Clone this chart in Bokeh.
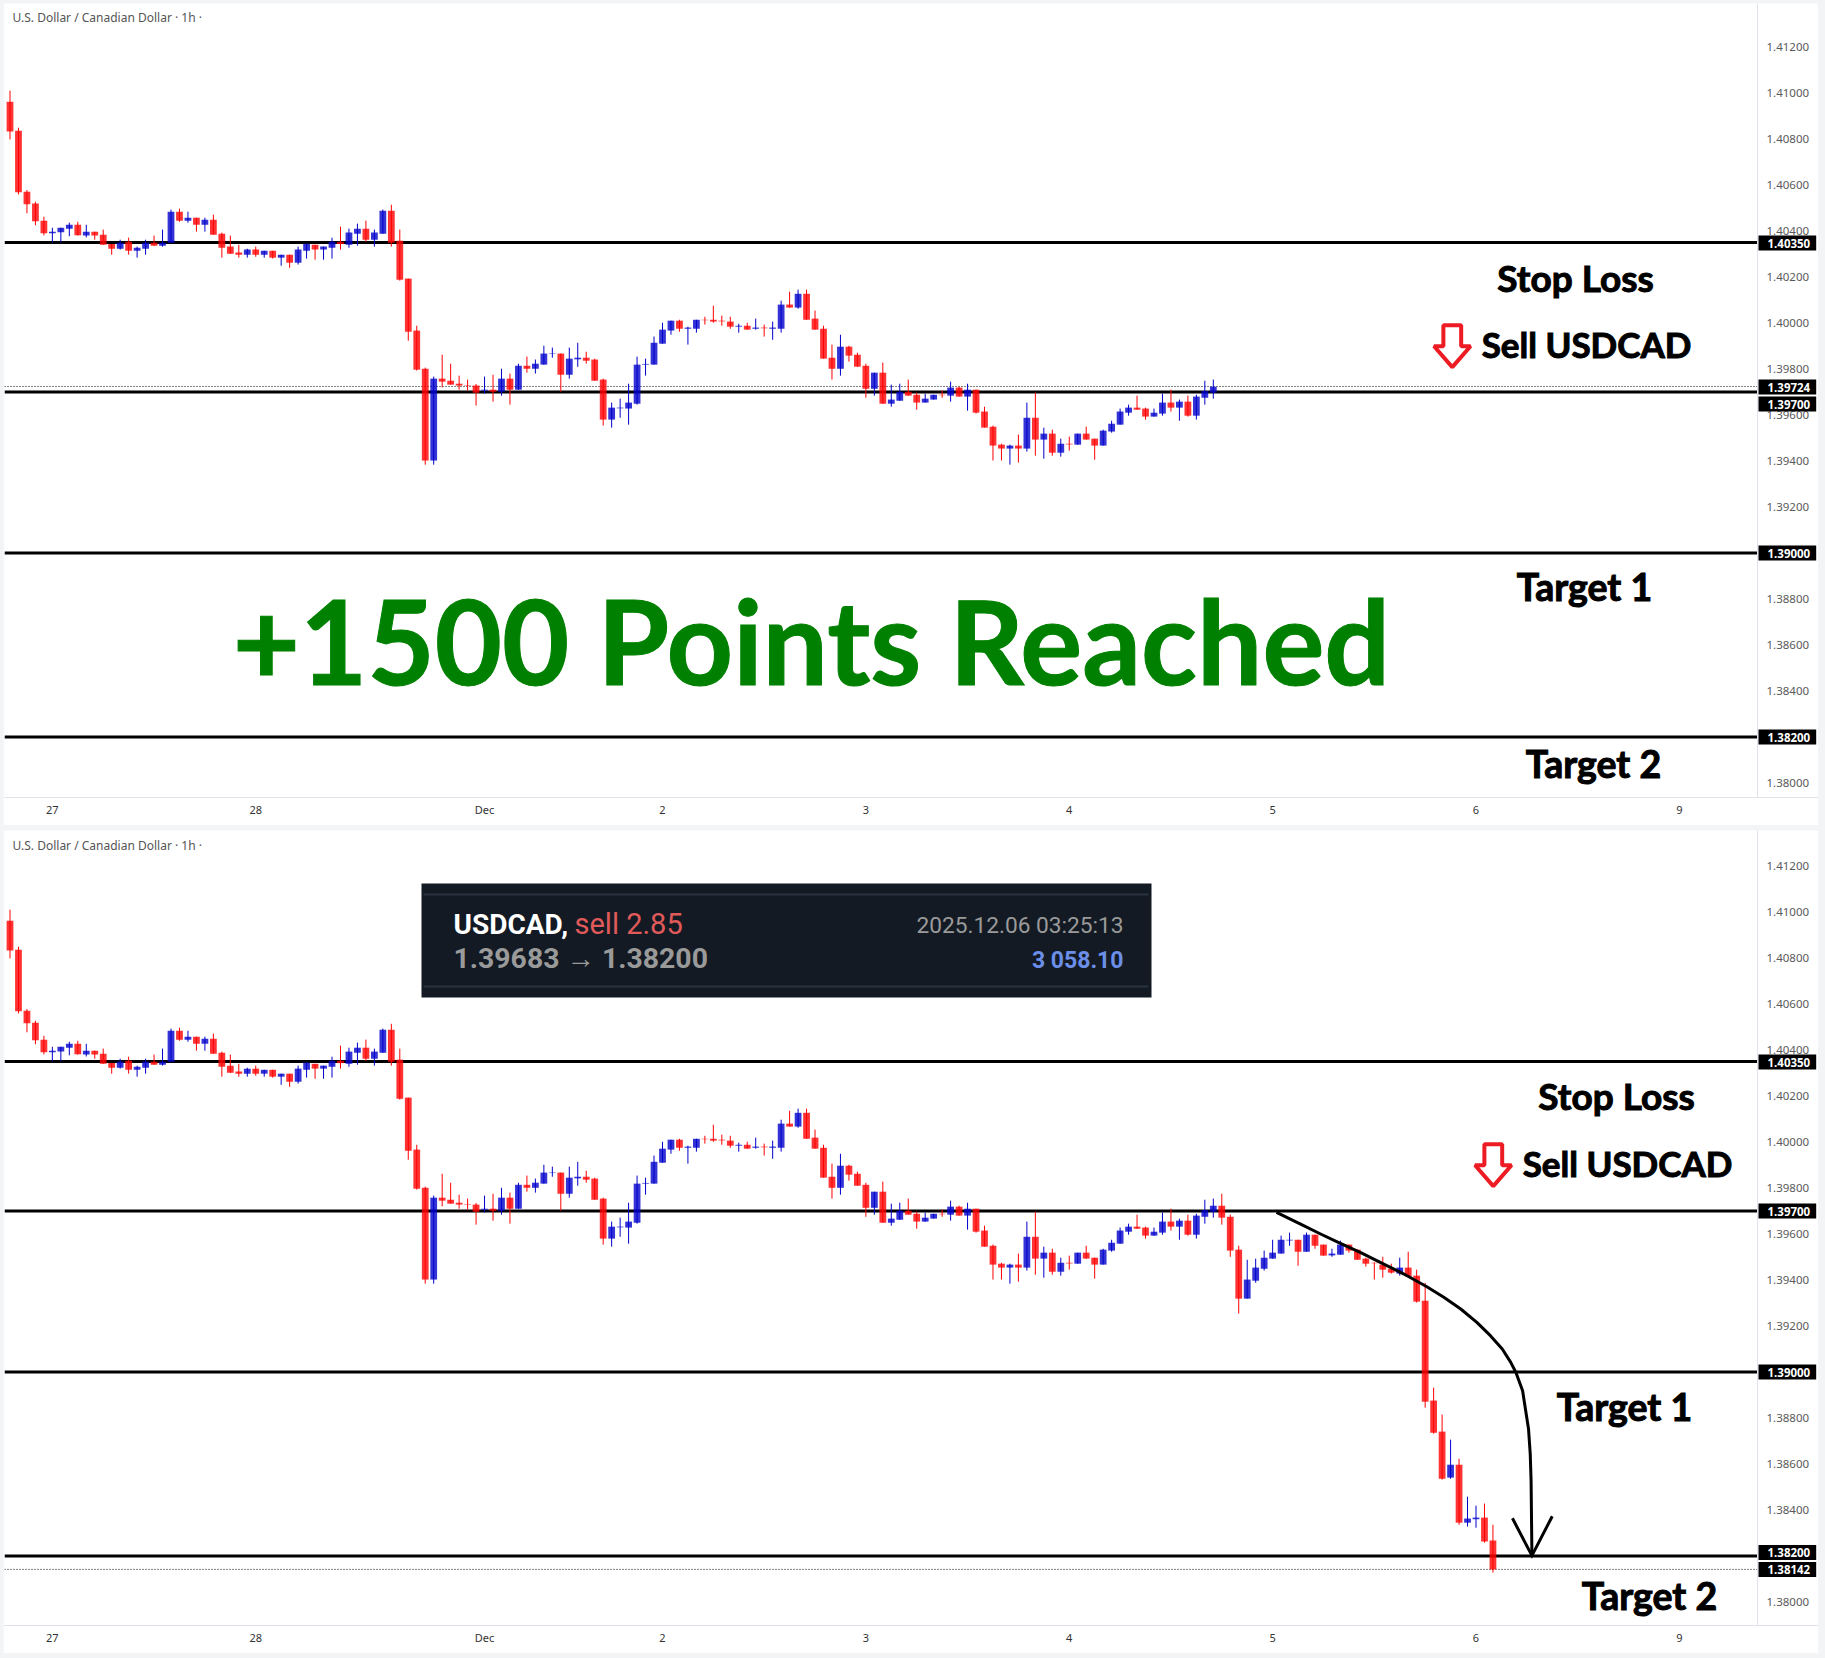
from bokeh.embed import file_html
from bokeh.resources import INLINE
from bokeh.layouts import column
from bokeh.models import (ColumnDataSource, Range1d, LinearAxis, FixedTicker, NumeralTickFormatter,
                          Label, BoxAnnotation)
from bokeh.plotting import figure

# Candles in points (1 point = 0.00001)
bar_high = [141010,140849,140578,140527,140462,140414,140414,140436,140440,140427,140397,140406,140343,140362,140371,140332,140362,140380,140406,140493,140497,140484,140458,140458,140471,140393,140380,140340,140323,140332,140314,140314,140297,140297,140332,140345,140340,140332,140371,140419,140410,140432,140445,140406,140493,140514,140406,140193,139988,139806,139767,139862,139823,139771,139754,139735,139767,139775,139801,139780,139823,139854,139841,139901,139893,139867,139893,139914,139875,139845,139758,139654,139671,139736,139854,139845,139941,140001,140010,140014,139984,140014,140027,140075,140032,140027,139997,140001,140019,139993,140006,140097,140136,140145,140145,140054,139988,139906,139949,139901,139871,139823,139784,139828,139732,139736,139754,139697,139693,139688,139706,139745,139723,139736,139710,139636,139554,139475,139471,139515,139654,139697,139545,139536,139497,139506,139519,139549,139497,139536,139575,139628,139645,139684,139632,139628,139693,139710,139667,139684,139688,139749,139754,139775,139684,139549,139488,139493,139528,139575,139593,139606,139575,139606,139597,139554,139536,139571,139554,139532,139497,139477,139501,139471,139497,139523,139445,139388,138932,138815,138706,138623,138458,138419,138428,138336]
bar_low = [140798,140559,140477,140425,140381,140351,140351,140377,140380,140372,140362,140340,140297,140319,140297,140284,140297,140336,140332,140349,140440,140436,140397,140397,140384,140284,140301,140284,140284,140288,140284,140280,140249,140240,140254,140280,140275,140275,140280,140319,140327,140336,140353,140332,140388,140332,140184,139923,139793,139384,139384,139720,139732,139710,139706,139641,139693,139658,139684,139645,139710,139784,139780,139819,139849,139701,139758,139810,139823,139749,139554,139545,139588,139558,139645,139771,139819,139910,139949,139962,139906,139958,139993,140001,139988,139975,139958,139971,139971,139941,139927,139958,140067,140062,140014,139971,139845,139754,139771,139832,139810,139675,139684,139649,139636,139662,139684,139623,139654,139667,139675,139658,139680,139619,139606,139545,139402,139402,139384,139393,139441,139423,139410,139423,139419,139445,139471,139493,139406,139467,139523,139558,139597,139623,139580,139593,139597,139615,139575,139593,139580,139645,139671,139641,139501,139254,139319,139388,139441,139493,139515,139549,139462,139523,139536,139506,139501,139510,139519,139488,139458,139402,139410,139428,139419,139415,139302,138845,138732,138532,138536,138336,138328,138323,138258,138128]
bar_open = [140962,140836,140571,140519,140445,140390,140394,140410,140427,140380,140397,140384,140343,140323,140353,140314,140323,140349,140336,140349,140484,140445,140458,140427,140449,140388,140332,140306,140297,140319,140297,140314,140284,140297,140262,140314,140340,140319,140327,140353,140340,140388,140410,140362,140388,140488,140358,140193,139967,139801,139402,139758,139749,139736,139730,139728,139706,139710,139701,139758,139710,139814,139801,139819,139865,139867,139775,139842,139849,139841,139754,139580,139629,139628,139649,139819,139819,139910,139967,140010,139975,139975,140014,140014,140010,140006,139984,139988,139975,139980,139975,139975,140080,140067,140127,140019,139975,139849,139801,139897,139862,139814,139714,139784,139649,139662,139701,139688,139654,139667,139688,139684,139719,139680,139710,139615,139549,139471,139454,139467,139454,139588,139493,139519,139436,139475,139471,139519,139497,139467,139528,139558,139610,139632,139628,139593,139606,139654,139632,139658,139597,139675,139697,139723,139675,139532,139319,139397,139449,139493,139515,139572,139575,139523,139597,139554,139507,139510,139554,139532,139493,139475,139467,139449,139428,139454,139419,139310,138876,138741,138541,138597,138345,138360,138367,138267]
bar_close = [140833,140568,140516,140442,140390,140397,140414,140427,140381,140397,140380,140340,140323,140349,140314,140327,140349,140336,140349,140484,140445,140458,140427,140449,140384,140327,140301,140297,140319,140297,140314,140284,140297,140262,140319,140345,140319,140332,140353,140343,140393,140410,140362,140393,140488,140349,140188,139962,139797,139402,139758,139745,139732,139728,139728,139697,139710,139701,139758,139710,139814,139801,139823,139867,139867,139775,139845,139849,139836,139749,139580,139632,139632,139654,139819,139822,139914,139971,140010,139975,139980,140014,140012,140006,140007,139984,139988,139971,139980,139977,139980,140080,140067,140127,140014,139971,139845,139801,139897,139858,139810,139714,139784,139649,139667,139701,139684,139654,139671,139688,139686,139719,139680,139710,139610,139545,139467,139454,139467,139454,139588,139493,139519,139436,139475,139472,139519,139493,139467,139532,139562,139615,139632,139623,139593,139610,139654,139632,139658,139597,139680,139704,139723,139671,139528,139319,139402,139454,139497,139519,139575,139575,139523,139597,139549,139506,139515,139554,139528,139488,139471,139473,139445,139432,139454,139415,139306,138871,138736,138536,138597,138345,138363,138367,138263,138142]
first_panel_bars = 143

x_tick_bars = [5, 29, 56, 77, 101, 125, 149, 173, 197]
x_tick_labels = ["27", "28", "Dec", "2", "3", "4", "5", "6", "9"]
y_ticks = [1.380, 1.382, 1.384, 1.386, 1.388, 1.390, 1.392, 1.394, 1.396, 1.398, 1.400, 1.402, 1.404, 1.406, 1.408, 1.410, 1.412]

levels_top = [1.40350, 1.39700, 1.39000, 1.38200]
levels_bottom = [1.40350, 1.39700, 1.39000, 1.38200]
last_top = 1.39724
last_bottom = 1.38142

curve_bar = [149.46, 152.3, 154.66, 157.0, 159.4, 161.7, 164.5, 167.2, 169.2, 171.2, 173.1, 174.7, 176.1, 177.1, 177.7, 178.5, 178.8, 179.2, 179.4, 179.5, 179.6]
curve_price = [1.39694, 1.39643, 1.39600, 1.39559, 1.39519, 1.39477, 1.39426, 1.39371, 1.39325, 1.39274, 1.39216, 1.39158, 1.39100, 1.39042, 1.38999, 1.38919, 1.38847, 1.38752, 1.38644, 1.38528, 1.38202]
head_bar = [177.3, 179.6, 182.0]
head_price = [1.38364, 1.38202, 1.38373]

arrow_bar = [169.15, 171.25, 171.25, 172.35, 170.2, 168.05, 169.15]
arrow_price = [1.39990, 1.39990, 1.39899, 1.39899, 1.39808, 1.39899, 1.39899]

BLACK = "#000000"
FONT = "Noto Sans"
BIG = "Lato"
PX_BAR = 8.474
X0 = 9.5
FRAME_L = 4
FRAME_R = 1818
AXIS_X = (1757 - X0) / PX_BAR
X_START = (FRAME_L - X0) / PX_BAR


def label(fig_bottom, x, y, text, **kw):
    return Label(x=x - FRAME_L, y=fig_bottom - y, x_units="screen", y_units="screen", text=text, **kw)


def panel(n, height, margin, top_y, bottom_y, y_hi, y_lo, levels, last, title_y, tags, texts, arrow_dx):
    p = figure(width=1815, height=height, output_backend="svg", toolbar_location=None,
               x_range=Range1d(X_START, (FRAME_R - X0) / PX_BAR),
               y_range=Range1d(y_lo, y_hi),
               x_axis_location=None, y_axis_location=None,
               min_border_left=1, min_border_right=0, min_border_top=0, min_border_bottom=height - (bottom_y - top_y),
               border_fill_color="white", background_fill_color="white", outline_line_color=None)
    p.margin = margin
    p.xgrid.visible = False
    p.ygrid.visible = False

    yax = LinearAxis(ticker=FixedTicker(ticks=y_ticks), formatter=NumeralTickFormatter(format="0.00000"),
                     fixed_location=AXIS_X,
                     major_tick_line_color=None, minor_tick_line_color=None,
                     axis_line_color="#e0e3eb", axis_line_width=1,
                     major_label_text_font=FONT, major_label_text_font_size="11.5px",
                     major_label_text_color="#5a5a5a", major_label_standoff=3)
    p.add_layout(yax, "right")
    xax = LinearAxis(ticker=FixedTicker(ticks=x_tick_bars),
                     major_label_overrides={t: l for t, l in zip(x_tick_bars, x_tick_labels)},
                     major_tick_line_color=None, minor_tick_line_color=None,
                     axis_line_color="#e0e3eb", axis_line_width=1,
                     major_label_text_font=FONT, major_label_text_font_size="11px",
                     major_label_text_color="#333333", major_label_standoff=-2)
    p.add_layout(xax, "below")

    nl = len(levels)
    p.segment([X_START] * nl, levels, [AXIS_X] * nl, levels, line_color=BLACK, line_width=3, level="underlay")
    p.segment([X_START], [last], [AXIS_X], [last], line_color=BLACK, line_width=1, line_dash="1 2", level="underlay")

    idx = list(range(n))
    src = ColumnDataSource(dict(
        x=idx,
        h=[v / 1e5 for v in bar_high[:n]], l=[v / 1e5 for v in bar_low[:n]],
        o=[v / 1e5 for v in bar_open[:n]], c=[v / 1e5 for v in bar_close[:n]],
        col=["#0000cc" if bar_close[i] >= bar_open[i] else "#ff0000" for i in idx],
    ))
    p.segment("x", "h", "x", "l", source=src, line_color="col", line_width=1)
    p.vbar(x="x", top="o", bottom="c", width=0.8, source=src, fill_color="col", fill_alpha=0.8, line_color=None)

    p.patch([b + arrow_dx / PX_BAR for b in arrow_bar], arrow_price, fill_color="white", line_color="#ed1c24", line_width=4)

    p.add_layout(label(bottom_y, 12, title_y, "U.S. Dollar / Canadian Dollar · 1h ·", text_font=FONT,
                       text_font_size="12px", text_color="#555555", text_baseline="middle"))
    for (txt, ty) in tags:
        p.add_layout(label(bottom_y, 1758, ty, txt, text_font=FONT, text_font_size="11.5px", text_font_style="bold",
                           text_color="white", text_baseline="middle", background_fill_color="black",
                           padding=(9, 6, 3, 3)))
    for (txt, tx, ty, size, col, align) in texts:
        p.add_layout(label(bottom_y, tx, ty - 0.335 * size, txt, text_font=BIG, text_font_size=f"{size}px",
                           text_font_style="bold", text_color=col, text_outline_color=col,
                           text_align=align, text_baseline="alphabetic"))
    return p


top = panel(first_panel_bars, 822, (3, 7, 3, 3), 3, 797, 1.41389, 1.37937, levels_top, last_top, 16.5,
            [("1.40350", 242.5), ("1.39724", 386.5), ("1.39700", 403.5), ("1.39000", 552.5), ("1.38200", 736.5)],
            [("Stop Loss", 1575, 289, 37, BLACK, "center"),
             ("Sell USDCAD", 1586, 355, 35, BLACK, "center"),
             ("Target 1", 1584, 599, 37.5, BLACK, "center"),
             ("Target 2", 1593, 775.5, 37.5, BLACK, "center"),
             ("+1500 Points Reached", 811, 679, 116, "#008000", "center")], 0)

bottom = panel(len(bar_high), 823, (2, 7, 5, 3), 830, 1625, 1.413543, 1.37898, levels_bottom, last_bottom, 845,
               [("1.40350", 1061.5), ("1.39700", 1210.5), ("1.39000", 1371.5), ("1.38200", 1552), ("1.38142", 1569)],
               [("Stop Loss", 1616, 1107.5, 37, BLACK, "center"),
                ("Sell USDCAD", 1627, 1174, 35, BLACK, "center"),
                ("Target 1", 1624, 1419, 37.5, BLACK, "center"),
                ("Target 2", 1649, 1608, 37.5, BLACK, "center")], 41)

# Line + arrow of the lower panel
bottom.line(curve_bar, curve_price, line_color=BLACK, line_width=3, line_join="round")
bottom.line(head_bar, head_price, line_color=BLACK, line_width=3, line_join="miter")

# Trade card
fb = 1625
bottom.add_layout(BoxAnnotation(left=421 - FRAME_L, right=1151 - FRAME_L, bottom=fb - 997, top=fb - 883,
                                left_units="screen", right_units="screen", top_units="screen", bottom_units="screen",
                                fill_color="#131a24", fill_alpha=1, line_color=None))
for yy in (894, 986):
    bottom.add_layout(BoxAnnotation(left=423 - FRAME_L, right=1148 - FRAME_L, bottom=fb - yy - 1, top=fb - yy + 1,
                                    left_units="screen", right_units="screen", top_units="screen", bottom_units="screen",
                                    fill_color="#2b3340", fill_alpha=1, line_color=None))
card = [("USDCAD,", 453, 933, "#ffffff", "bold", "left", 28),
        ("sell 2.85", 574, 933, "#e05a5a", "normal", "left", 29),
        ("2025.12.06 03:25:13", 1123, 933, "#9a9a9a", "normal", "right", 22.7),
        ("1.39683 → 1.38200", 453, 968, "#9a9a9a", "bold", "left", 28.4),
        ("3 058.10", 1123, 968, "#6b8fe8", "bold", "right", 23)]
for txt, tx, ty, col, st, al, sz in card:
    bottom.add_layout(label(fb, tx, ty - 0.335 * sz, txt, text_font="Roboto", text_font_size=f"{sz}px", text_font_style=st,
                            text_color=col, text_align=al, text_baseline="alphabetic"))

page = column(top, bottom, spacing=0, width=1825, height=1658,
              styles={"background-color": "#f3f4f6"})
open("out.html", "w").write(file_html(page, INLINE))
